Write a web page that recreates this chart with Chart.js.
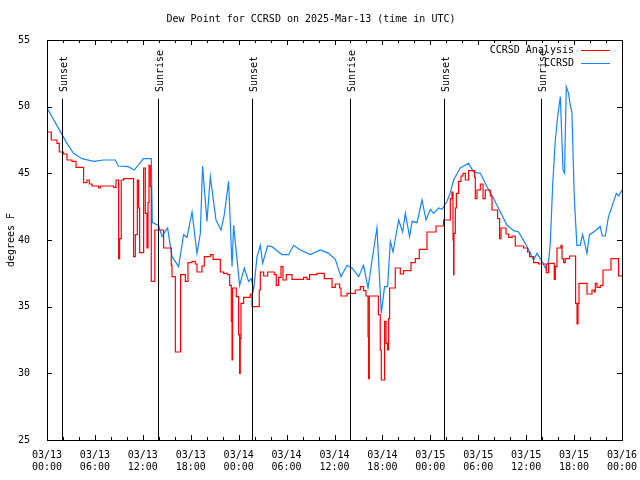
<!DOCTYPE html>
<html>
<head>
<meta charset="utf-8">
<script src="https://cdn.jsdelivr.net/npm/chart.js@4"></script>
<style>
  html, body { margin: 0; padding: 0; background: #fff; }
  #wrap { width: 640px; height: 480px; }
</style>
</head>
<body>
<div id="wrap"><canvas id="myChart" width="640" height="480"></canvas></div>
<script>
// hours since 03/13 00:00 UTC
const xLabels = ["03/13|00:00", "03/13|06:00", "03/13|12:00", "03/13|18:00", "03/14|00:00", "03/14|06:00", "03/14|12:00",
  "03/14|18:00", "03/15|00:00", "03/15|06:00", "03/15|12:00", "03/15|18:00", "03/16|00:00"];

// sunrise / sunset marks
const sunHours = [1.88, 13.9, 25.66, 37.9, 49.7, 61.8];
const sunNames = ["Sunset", "Sunrise", "Sunset", "Sunrise", "Sunset", "Sunrise"];

// CCRSD Analysis (red, stepped)
const anaHours = [0, 0.54, 1.25, 1.54, 2.08, 2.5, 3.13, 3.63, 4.58, 5.0, 5.3, 5.63, 6.46, 6.67, 8.34, 8.64,
  8.97, 9.09, 9.3, 9.59, 10.84, 11.06, 11.31, 11.47, 11.6, 12.1, 12.31, 12.52, 12.65, 12.77, 12.94, 13.06,
  13.5, 14.6, 15.56, 15.65, 16.07, 16.73, 17.32, 17.65, 18.15, 18.57, 18.78, 19.41, 19.7, 20.45, 20.79,
  21.7, 22.11, 22.61, 22.87, 23.08, 23.17, 23.24, 23.7, 23.99, 24.12, 24.2, 24.29, 24.62, 25.45, 25.67,
  26.58, 26.71, 27.13, 27.62, 28.46, 28.71, 29.0, 29.3, 29.55, 29.96, 30.68, 32.13, 32.56, 32.88, 33.81,
  34.72, 35.69, 36.1, 36.64, 36.81, 37.57, 38.6, 39.23, 39.64, 39.94, 40.2, 40.27, 40.36, 41.5, 41.73,
  41.86, 42.27, 42.45, 42.65, 42.77, 42.9, 43.61, 44.24, 44.65, 45.58, 46.12, 46.62, 47.58, 48.71, 49.66,
  50.5, 50.71, 50.84, 50.91, 50.96, 51.13, 51.26, 51.54, 51.84, 52.09, 52.38, 52.79, 53.54, 53.63, 53.84,
  54.26, 54.6, 54.88, 55.51, 55.72, 56.42, 56.67, 56.85, 57.48, 57.8, 58.23, 58.64, 59.68, 60.18, 60.43,
  60.93, 61.56, 62.52, 62.81, 63.52, 63.65, 63.86, 64.36, 64.49, 64.69, 64.9, 65.44, 66.19, 66.37, 66.49,
  66.62, 67.62, 68.24, 68.53, 68.66, 68.87, 69.28, 69.62, 70.62, 71.57, 72];
const anaValues = [48.1, 47.5, 47.25, 46.6, 46.45, 46.0, 45.9, 45.45, 44.3, 44.5, 44.2, 44.05, 43.9, 44.05, 43.95, 44.5,
  38.6, 40.1, 44.5, 44.6, 38.75, 40.4, 44.5, 42.4, 39.05, 45.4, 42.0, 39.4, 42.8, 45.6, 44.0, 36.9,
  40.75, 39.4, 38.1, 37.25, 31.6, 37.4, 36.9, 38.3, 38.4, 38.2, 37.6, 38.05, 38.75, 38.9, 38.55,
  37.6, 37.5, 37.4, 36.6, 33.9, 31.0, 36.4, 35.75, 32.9, 30.0, 32.6, 35.25, 35.7, 35.95, 35.0,
  36.25, 37.6, 37.3, 37.6, 37.4, 36.6, 37.2, 38.0, 37.0, 37.4, 37.05, 37.2, 37.05, 37.4, 37.5,
  37.1, 36.45, 36.7, 36.4, 35.8, 36.0, 36.25, 36.5, 36.2, 35.8, 32.75, 29.6, 35.8, 34.4, 31.75,
  29.5, 33.9, 32.25, 31.75, 34.1, 36.4, 37.9, 37.45, 37.7, 38.3, 38.6, 39.3, 40.6, 41.05, 41.5,
  43.1, 43.6, 40.0, 37.4, 40.5, 42.4, 43.5, 44.4, 44.8, 45.0, 44.5, 45.2, 44.7, 43.1, 43.75,
  44.2, 43.1, 43.75, 43.3, 42.25, 41.6, 40.1, 40.9, 40.45, 40.2, 40.3, 39.55, 39.4, 39.1, 38.75,
  38.3, 38.2, 37.55, 38.25, 37.05, 38.0, 39.4, 39.6, 38.6, 38.3, 38.6, 38.8, 35.25, 33.7, 35.25,
  36.75, 35.95, 36.25, 36.1, 36.75, 36.45, 36.6, 37.75, 38.6, 37.3, 37.4];

// CCRSD obs (blue)
const obsHours = [0, 1.8, 2.5, 3.33, 4.38, 5.84, 7.09, 8.55, 8.93, 10.18, 10.93, 12.06, 13.06, 13.19, 13.97, 14.4,
  15.1, 15.65, 16.48, 17.1, 17.53, 18.16, 18.78, 19.2, 19.48, 20.03, 20.45, 21.16, 21.79, 22.2, 22.74,
  23.17, 23.37, 24.12, 24.7, 25.24, 25.58, 25.87, 26.3, 26.71, 27.0, 27.62, 28.17, 29.43, 30.25, 30.88,
  31.72, 32.97, 34.22, 35.26, 36.1, 36.81, 37.57, 38.19, 39.02, 39.64, 40.2, 40.7, 41.32, 41.86, 42.27,
  42.65, 42.99, 43.33, 44.03, 44.53, 44.87, 45.4, 45.71, 46.33, 46.96, 47.46, 48.0, 48.41, 49.04, 49.46,
  50.09, 50.5, 50.91, 51.75, 52.79, 53.42, 54.26, 55.1, 55.93, 56.77, 57.6, 58.43, 59.05, 59.89, 60.52,
  60.93, 61.36, 61.98, 62.4, 62.81, 63.02, 63.31, 63.65, 63.94, 64.28, 64.61, 64.81, 65.02, 65.31, 65.52,
  65.73, 66.02, 66.35, 66.77, 67.06, 67.4, 67.61, 67.93, 68.65, 69.27, 69.52, 69.9, 70.31, 70.74, 71.28,
  71.57, 72];
const obsValues = [49.9, 48.0, 47.25, 46.5, 46.1, 45.9, 46.0, 46.0, 45.55, 45.5, 45.25, 46.1, 46.1, 41.3, 41.1, 40.25,
  40.9, 38.75, 38.0, 40.4, 40.2, 42.1, 39.0, 40.5, 45.55, 41.4, 44.75, 41.5, 40.75, 41.9, 44.4,
  38.0, 41.1, 36.6, 37.9, 36.9, 37.1, 36.25, 38.75, 39.6, 38.25, 39.55, 39.5, 38.9, 38.9, 39.6,
  39.25, 38.9, 39.25, 39.0, 38.55, 37.25, 38.1, 37.9, 37.25, 38.1, 36.4, 38.5, 40.9, 34.5, 36.5,
  36.5, 39.9, 39.1, 41.5, 40.6, 42.0, 40.25, 41.4, 41.3, 43.0, 41.5, 42.3, 42.0, 42.4, 42.3,
  42.9, 43.55, 44.5, 45.4, 45.75, 45.1, 45.0, 44.0, 43.1, 42.1, 41.1, 40.7, 40.6, 39.75, 39.0,
  38.5, 39.0, 38.4, 37.9, 38.4, 39.75, 44.0, 47.5, 49.25, 50.75, 45.25, 45.0, 51.5, 51.0, 50.1,
  49.6, 43.25, 39.6, 39.6, 40.4, 39.6, 39.0, 40.4, 40.7, 41.0, 40.3, 40.3, 41.75, 42.5, 43.5,
  43.3, 43.75];

const monoFont = { family: "'DejaVu Sans Mono', monospace", size: 10, weight: "normal" };

function toPoints(hours, values) {
  return hours.map((h, i) => ({ x: h, y: values[i] }));
}

// gnuplot look: frame, inward ticks, sun lines, legend
const gnuplotBits = {
  id: "gnuplotBits",
  afterDatasetsDraw(chart) {
    const ctx = chart.ctx;
    const area = chart.chartArea;
    const xs = chart.scales.x;
    const ys = chart.scales.y;
    ctx.save();
    ctx.strokeStyle = "#000";
    ctx.lineWidth = 1;

    // sunrise/sunset
    ctx.font = "10px " + monoFont.family;
    ctx.fillStyle = "#000";
    sunHours.forEach((h, i) => {
      const px = Math.round(xs.getPixelForValue(h)) + 0.5;
      ctx.beginPath();
      ctx.moveTo(px, ys.getPixelForValue(50.6));
      ctx.lineTo(px, area.bottom);
      ctx.stroke();
      ctx.save();
      ctx.translate(px + 4, ys.getPixelForValue(51.1));
      ctx.rotate(-Math.PI / 2);
      ctx.textAlign = "left";
      ctx.textBaseline = "alphabetic";
      ctx.fillText(sunNames[i], 0, 0);
      ctx.restore();
    });

    // frame
    ctx.strokeRect(Math.round(area.left) + 0.5, Math.round(area.top) + 0.5,
      Math.round(area.right - area.left), Math.round(area.bottom - area.top));

    // inward ticks
    for (let h = 0; h <= 72; h += 2) {
      const px = Math.round(xs.getPixelForValue(h)) + 0.5;
      const len = h % 6 === 0 ? 5 : 3;
      ctx.beginPath();
      ctx.moveTo(px, area.bottom);
      ctx.lineTo(px, area.bottom - len);
      ctx.moveTo(px, area.top);
      ctx.lineTo(px, area.top + len);
      ctx.stroke();
    }
    for (let v = 25; v <= 55; v += 5) {
      const py = Math.round(ys.getPixelForValue(v)) + 0.5;
      ctx.beginPath();
      ctx.moveTo(area.left, py);
      ctx.lineTo(area.left + 5, py);
      ctx.moveTo(area.right, py);
      ctx.lineTo(area.right - 5, py);
      ctx.stroke();
    }

    // legend
    ctx.textAlign = "right";
    ctx.textBaseline = "middle";
    chart.data.datasets.forEach((ds, i) => {
      const ly = area.top + 10 + i * 13;
      ctx.fillStyle = "#000";
      ctx.fillText(ds.label, area.right - 48, ly);
      ctx.strokeStyle = ds.borderColor;
      ctx.beginPath();
      ctx.moveTo(area.right - 41, ly + 0.5);
      ctx.lineTo(area.right - 12, ly + 0.5);
      ctx.stroke();
    });
    ctx.restore();
  }
};

const ctx = document.getElementById("myChart");
new Chart(ctx, {
  type: "line",
  data: {
    datasets: [
      {
        label: "CCRSD Analysis",
        data: toPoints(anaHours, anaValues),
        borderColor: "#ff0000",
        borderWidth: 1.2,
        pointRadius: 0,
        stepped: true,
        fill: false,
      },
      {
        label: "CCRSD",
        data: toPoints(obsHours, obsValues),
        borderColor: "#1485ff",
        borderWidth: 1.2,
        pointRadius: 0,
        fill: false,
      },
    ],
  },
  options: {
    responsive: false,
    animation: false,
    layout: { padding: { top: 0, right: 18, left: 0, bottom: 0 } },
    plugins: {
      legend: { display: false },
      tooltip: { enabled: false },
      title: {
        display: true,
        text: "Dew Point for CCRSD on 2025-Mar-13 (time in UTC)",
        color: "#000",
        font: monoFont,
        padding: { top: 13, bottom: 15 },
        position: "top",
        fullSize: true,
      },
    },
    scales: {
      x: {
        type: "linear",
        min: 0,
        max: 72,
        grid: { display: false },
        border: { color: "#000" },
        afterFit: (scale) => {
          scale.height = 40;
          scale.paddingLeft = 0;
          scale.paddingRight = 0;
        },
        afterBuildTicks: (scale) => {
          scale.ticks = xLabels.map((l, i) => ({ value: i * 6 }));
        },
        ticks: {
          color: "#000",
          font: monoFont,
          maxRotation: 0,
          autoSkip: false,
          padding: 1,
          callback: (v) => xLabels[Math.round(v / 6)].split("|"),
        },
      },
      y: {
        min: 25,
        max: 55,
        grid: { display: false },
        border: { color: "#000" },
        afterFit: (scale) => { scale.width = 47; },
        ticks: { stepSize: 5, color: "#000", font: monoFont, padding: 9 },
        title: { display: true, text: "degrees F", color: "#000", font: monoFont, padding: { top: 5, bottom: 0 } },
      },
    },
  },
  plugins: [gnuplotBits],
});
</script>
</body>
</html>
